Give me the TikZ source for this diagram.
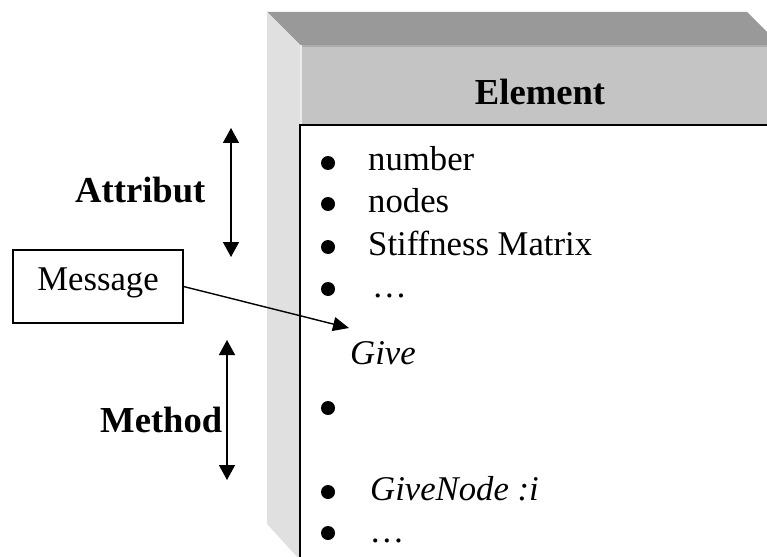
\documentclass[tikz,border=0pt]{standalone}
\usepackage{fontspec}
\setmainfont{Liberation Serif}
\usetikzlibrary{arrows.meta}
\definecolor{topface}{HTML}{999999}
\definecolor{frontface}{HTML}{C4C4C4}
\definecolor{sideface}{HTML}{E0E0E0}
\definecolor{edgelight}{HTML}{ECECEC}
\definecolor{edgemid}{HTML}{ADADAD}
\begin{document}
\begin{tikzpicture}[x=1pt,y=-1pt,
  txt/.style={font=\fontsize{34.7}{40}\selectfont, inner sep=0pt},
  itemtext/.style={txt, anchor=base west},
  heading/.style={font=\fontsize{36.6}{42}\selectfont\bfseries, inner sep=0pt},
  dot/.style={circle, fill=black, inner sep=0pt, minimum size=14pt},
  twoway/.style={line width=1.5pt, {Triangle[width=16pt,length=15pt]}-{Triangle[width=16pt,length=15pt]}},
  msgarrow/.style={line width=1.4pt, -{Triangle[width=14pt,length=16pt]}},
  msgbox/.style={txt, draw, line width=1.2pt, minimum width=170pt, minimum height=73pt,
                 text height=20pt, text depth=13pt}
]
\clip (0,0) rectangle (767,556);
\fill[white] (0,0) rectangle (767,556);

% three-dimensional block: top face, side face, front face
\fill[topface] (267,12) -- (747,12) -- (780,45) -- (300,45) -- cycle;
\fill[sideface] (267,12) -- (300,45) -- (300,560) -- (267,524) -- cycle;
\fill[frontface] (300,45) rectangle (800,600);
\fill[edgemid] (300,45) rectangle (800,47);
\fill[edgelight] (300,45) rectangle (302,125);

% white content panel
\draw[line width=1.3pt, fill=white] (300,125) rectangle (810,600);

% title
\node[heading, anchor=base] (title) at (540,105) {Element};

% attributes
\node[dot] (b1) at (328,163) {};
\node[itemtext] (i1) at (368,171) {number};
\node[dot] (b2) at (328,204) {};
\node[itemtext] (i2) at (368,212) {nodes};
\node[dot] (b3) at (328,247) {};
\node[itemtext] (i3) at (368,255) {Stiffness Matrix};
\node[dot] (b4) at (328,289) {};
\node[itemtext] (i4) at (372,297) {…};

% methods
\node[itemtext, font=\fontsize{34.7}{40}\selectfont\itshape] (give) at (350,364) {Give};
\node[dot] (b5) at (328,408) {};
\node[dot] (b6) at (328,492) {};
\node[itemtext, font=\fontsize{34.7}{40}\selectfont\itshape] (i6) at (370,500) {GiveNode :i};
\node[dot] (b7) at (328,533) {};
\node[itemtext, font=\fontsize{34.7}{40}\selectfont\itshape] (i7) at (372,542) {…};

% side labels
\node[heading, anchor=base west] (attr) at (75,202) {Attribut};
\node[heading, anchor=base west] (meth) at (100,432) {Method};

\coordinate (attrTop) at (231,128);
\coordinate (attrBot) at (231,257);
\draw[twoway] (attrTop) -- (attrBot);

\coordinate (methTop) at (227,340);
\coordinate (methBot) at (227,480);
\draw[twoway] (methTop) -- (methBot);

% message sent to the element
\node[msgbox] (msg) at (98,286.5) {Message};
\coordinate (giveTip) at (349,328);
\draw[msgarrow] (msg.east) -- (giveTip);
\end{tikzpicture}
\end{document}
